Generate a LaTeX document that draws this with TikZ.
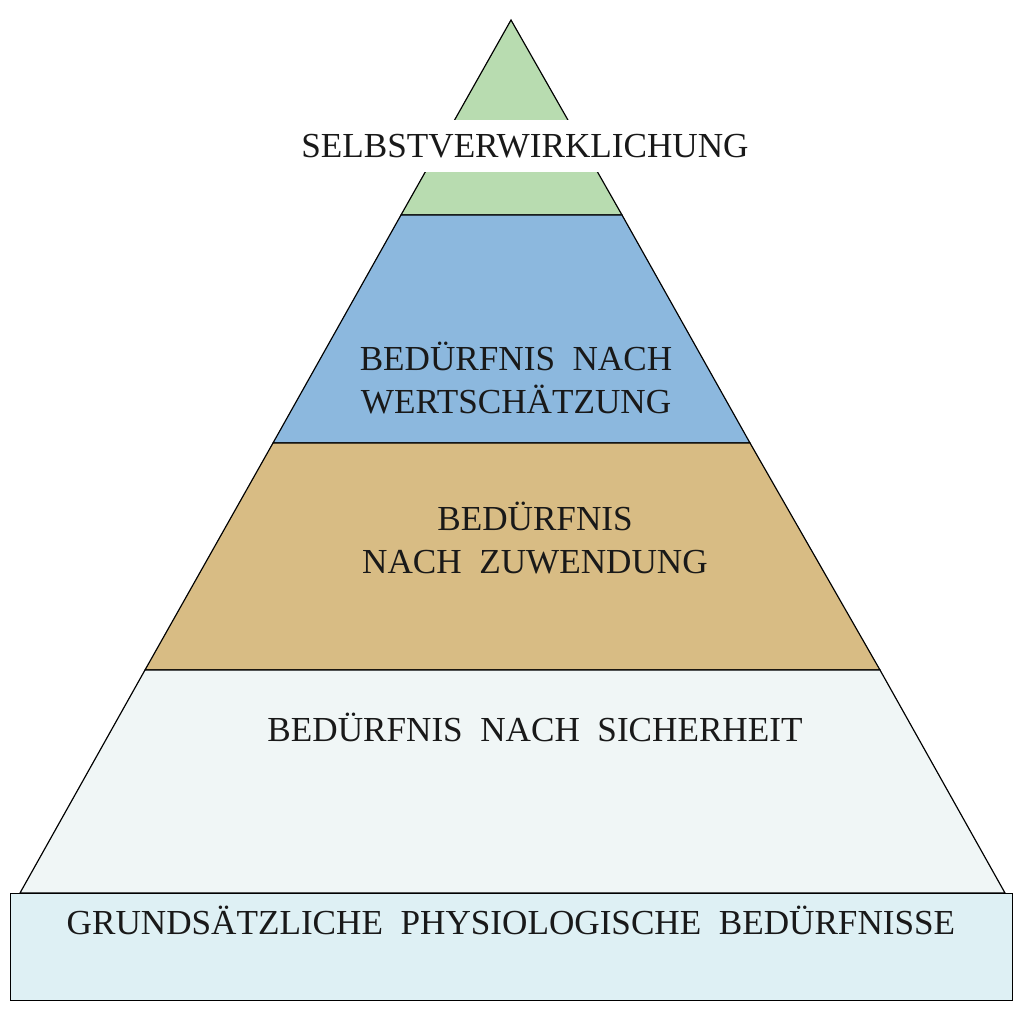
\documentclass[tikz,border=0pt]{standalone}
\usepackage{fontspec}
\setmainfont{Liberation Serif}
\definecolor{cg}{RGB}{184,220,176}
\definecolor{cb}{RGB}{140,184,222}
\definecolor{ct}{RGB}{216,188,132}
\definecolor{cw}{RGB}{240,246,246}
\definecolor{cbase}{RGB}{222,240,244}
\begin{document}
\begin{tikzpicture}[x=0.03cm,y=-0.03cm,
  layer/.style={draw=black,line width=1pt},
  lbl/.style={font=\fontsize{30}{37}\selectfont,align=center,text=black!90}]
\useasboundingbox[fill=white] (0,0) rectangle (1024,1017);
\fill[cg,draw=black,line width=1pt] (511,20) -- (622,215) -- (401,215) -- cycle;
\fill[cb,draw=black,line width=1pt] (401,215) -- (622,215) -- (750,443) -- (273,443) -- cycle;
\fill[ct,draw=black,line width=1pt] (273,443) -- (750,443) -- (880,670) -- (145,670) -- cycle;
\fill[cw,draw=black,line width=1pt] (145,670) -- (880,670) -- (1005,893) -- (20,893) -- cycle;
\node[layer,fill=cbase,minimum width=1002*0.03cm,minimum height=107*0.03cm,anchor=north west,inner sep=0] (base) at (10,893) {};
\node[fill=white,minimum width=470*0.03cm,minimum height=52*0.03cm,inner sep=0] (top) at (525,146) {};
\node[lbl] (t1) at (top) {SELBSTVERWIRKLICHUNG};
\node[lbl] (t2) at (516,378) {BEDÜRFNIS\ \ NACH\\WERTSCHÄTZUNG};
\node[lbl] (t3) at (535,538) {BEDÜRFNIS\\NACH\ \ ZUWENDUNG};
\node[lbl] (t4) at (535,727) {BEDÜRFNIS\ \ NACH\ \ SICHERHEIT};
\node[lbl] (t5) at (511,920) {GRUNDSÄTZLICHE\ \ PHYSIOLOGISCHE\ \ BEDÜRFNISSE};
\end{tikzpicture}
\end{document}
